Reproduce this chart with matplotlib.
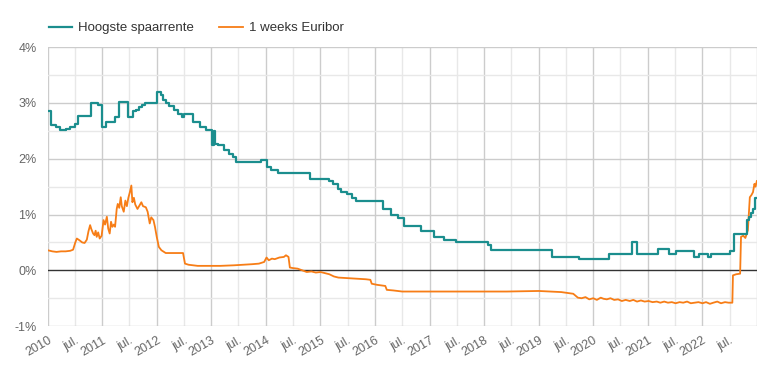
import matplotlib
matplotlib.use('Agg')
import matplotlib.pyplot as plt
import pandas as pd

plt.rcParams['font.family'] = ['Liberation Sans', 'DejaVu Sans']

# hoogste spaarrente (steps), change dates and values in %
spaar_dates = ['2010-01-01', '2010-01-25', '2010-02-25', '2010-03-25', '2010-05-01', '2010-06-01',
               '2010-07-01', '2010-07-25', '2010-10-20', '2010-12-01', '2011-01-01', '2011-01-25',
               '2011-03-25', '2011-04-20', '2011-06-25', '2011-07-28', '2011-08-15', '2011-09-05',
               '2011-09-25', '2011-10-15', '2012-01-01', '2012-01-28', '2012-02-15', '2012-03-01',
               '2012-03-25', '2012-04-28', '2012-05-20', '2012-06-15', '2012-07-01', '2012-09-01',
               '2012-10-15', '2012-11-25', '2013-01-08', '2013-01-16', '2013-01-22', '2013-02-15',
               '2013-03-25', '2013-04-28', '2013-05-25', '2013-06-15', '2013-12-01', '2014-01-05',
               '2014-02-05', '2014-03-20', '2014-10-20', '2015-03-01', '2015-03-25', '2015-04-25',
               '2015-05-20', '2015-06-25', '2015-07-28', '2015-08-28', '2016-02-25', '2016-04-20',
               '2016-06-01', '2016-07-15', '2016-11-05', '2017-02-01', '2017-04-10', '2017-06-28',
               '2018-01-25', '2018-02-15', '2019-04-01', '2019-09-25', '2020-04-15', '2020-09-17',
               '2020-10-22', '2021-03-10', '2021-05-20', '2021-07-08', '2021-11-03', '2021-12-06',
               '2022-02-10', '2022-02-28', '2022-07-01', '2022-07-31', '2022-10-28', '2022-11-10',
               '2022-11-22', '2022-12-05', '2022-12-18', '2022-12-31']
spaar_vals = [2.85, 2.60, 2.57, 2.52, 2.54, 2.57,
              2.63, 2.76, 2.99, 2.96, 2.57, 2.65,
              2.74, 3.02, 2.75, 2.85, 2.88, 2.92,
              2.96, 3.00, 3.20, 3.14, 3.06, 3.00,
              2.94, 2.88, 2.81, 2.75, 2.81, 2.66,
              2.57, 2.51, 2.25, 2.50, 2.27, 2.25,
              2.15, 2.09, 2.03, 1.95, 1.98, 1.85,
              1.79, 1.74, 1.64, 1.60, 1.55, 1.46,
              1.40, 1.36, 1.30, 1.25, 1.10, 1.00,
              0.94, 0.80, 0.70, 0.60, 0.55, 0.50,
              0.45, 0.37, 0.24, 0.20, 0.29, 0.50,
              0.29, 0.39, 0.29, 0.35, 0.24, 0.29,
              0.24, 0.29, 0.35, 0.65, 0.90, 0.96,
              1.02, 1.10, 1.29, 1.29]

# 1 weeks euribor in %
eur_dates = ['2010-01-01', '2010-02-01', '2010-03-01', '2010-04-01', '2010-05-01', '2010-06-01',
             '2010-06-20', '2010-07-05', '2010-07-15', '2010-08-01', '2010-08-20', '2010-09-05',
             '2010-09-20', '2010-10-01', '2010-10-12', '2010-10-20', '2010-11-01', '2010-11-10',
             '2010-11-18', '2010-11-25', '2010-12-05', '2010-12-15', '2010-12-28', '2011-01-10',
             '2011-01-20', '2011-02-01', '2011-02-10', '2011-02-20', '2011-03-01', '2011-03-10',
             '2011-03-20', '2011-03-28', '2011-04-08', '2011-04-15', '2011-04-25', '2011-05-05',
             '2011-05-12', '2011-05-25', '2011-06-05', '2011-06-15', '2011-06-25', '2011-07-05',
             '2011-07-15', '2011-07-22', '2011-08-01', '2011-08-10', '2011-08-25', '2011-09-05',
             '2011-09-20', '2011-10-01', '2011-10-20', '2011-11-01', '2011-11-15', '2011-11-25',
             '2011-12-10', '2011-12-20', '2012-01-01', '2012-01-15', '2012-02-01', '2012-03-01',
             '2012-04-01', '2012-05-01', '2012-06-01', '2012-06-25', '2012-07-08', '2012-08-01',
             '2012-10-01', '2012-12-01', '2013-03-01', '2013-06-01', '2013-08-01', '2013-10-01',
             '2013-11-15', '2013-12-20', '2014-01-05', '2014-01-20', '2014-02-10', '2014-03-01',
             '2014-04-01', '2014-05-01', '2014-05-15', '2014-06-01', '2014-06-10', '2014-07-01',
             '2014-08-01', '2014-09-10', '2014-10-01', '2014-11-01', '2014-12-01', '2015-01-01',
             '2015-02-01', '2015-03-01', '2015-04-01', '2015-05-01', '2015-07-01', '2015-09-01',
             '2015-11-01', '2015-12-01', '2015-12-10', '2016-01-15', '2016-03-10', '2016-03-20',
             '2016-05-01', '2016-07-01', '2017-01-01', '2017-07-01', '2018-01-01', '2018-06-01',
             '2019-01-01', '2019-06-01', '2019-08-20', '2019-09-20', '2019-10-15', '2019-11-10',
             '2019-12-05', '2020-01-01', '2020-01-25', '2020-02-20', '2020-03-10', '2020-04-01',
             '2020-04-25', '2020-05-20', '2020-06-15', '2020-07-10', '2020-08-05', '2020-09-01',
             '2020-09-25', '2020-10-20', '2020-11-15', '2020-12-10', '2021-01-05', '2021-02-01',
             '2021-03-01', '2021-03-25', '2021-04-20', '2021-05-15', '2021-06-10', '2021-07-05',
             '2021-08-01', '2021-08-25', '2021-09-20', '2021-10-15', '2021-11-10', '2021-12-05',
             '2022-01-01', '2022-01-25', '2022-02-20', '2022-03-15', '2022-04-10', '2022-05-05',
             '2022-06-01', '2022-06-25', '2022-07-20', '2022-07-24', '2022-08-15', '2022-09-10',
             '2022-09-16', '2022-10-01', '2022-10-15', '2022-11-01', '2022-11-14', '2022-11-25',
             '2022-12-05', '2022-12-15', '2022-12-22', '2022-12-31']
eur_vals = [0.36, 0.34, 0.33, 0.34, 0.34, 0.35,
            0.37, 0.50, 0.57, 0.54, 0.50, 0.49,
            0.55, 0.70, 0.81, 0.74, 0.66, 0.63,
            0.71, 0.60, 0.68, 0.57, 0.62, 0.90,
            0.82, 0.96, 0.75, 0.66, 0.87, 0.78,
            0.82, 0.78, 1.10, 1.19, 1.12, 1.31,
            1.15, 1.05, 1.25, 1.15, 1.30, 1.40,
            1.52, 1.22, 1.30, 1.18, 1.10, 1.15,
            1.22, 1.15, 1.13, 1.05, 0.84, 0.95,
            0.90, 0.78, 0.60, 0.42, 0.36, 0.31,
            0.31, 0.31, 0.31, 0.31, 0.12, 0.10,
            0.08, 0.08, 0.08, 0.09, 0.10, 0.11,
            0.12, 0.15, 0.23, 0.18, 0.21, 0.20,
            0.23, 0.24, 0.27, 0.24, 0.05, 0.04,
            0.03, -0.01, -0.03, -0.02, -0.04, -0.03,
            -0.05, -0.07, -0.11, -0.13, -0.14, -0.15,
            -0.16, -0.17, -0.24, -0.26, -0.28, -0.35,
            -0.36, -0.38, -0.38, -0.38, -0.38, -0.38,
            -0.37, -0.39, -0.42, -0.49, -0.50, -0.48,
            -0.52, -0.50, -0.53, -0.49, -0.51, -0.52,
            -0.50, -0.53, -0.52, -0.55, -0.53, -0.55,
            -0.53, -0.56, -0.54, -0.56, -0.55, -0.57,
            -0.56, -0.58, -0.56, -0.58, -0.57, -0.59,
            -0.57, -0.58, -0.56, -0.59, -0.58, -0.57,
            -0.59, -0.57, -0.60, -0.58, -0.56, -0.59,
            -0.57, -0.58, -0.58, -0.09, -0.07, -0.06,
            0.60, 0.62, 0.58, 0.72, 1.31, 1.35,
            1.40, 1.55, 1.50, 1.60]

legend_labels = ['Hoogste spaarrente', '1 weeks Euribor']
teal = '#1b8e8e'
orange = '#f77d16'

sd = pd.to_datetime(spaar_dates)
ed = pd.to_datetime(eur_dates)

fig = plt.figure(figsize=(7.57, 3.74), dpi=100)
ax = fig.add_axes([0.063, 0.128, 0.937, 0.746])

# grid: year / half year vertical, 1% / 0.5% horizontal
years = pd.date_range('2010-01-01', '2023-01-01', freq='YS')
halves = pd.date_range('2010-07-01', '2022-07-01', freq='12MS')
for d in years:
    ax.axvline(d, color='#cccccc', lw=1, zorder=0)
for d in halves:
    ax.axvline(d, color='#e8e8e8', lw=1, zorder=0)
for v in [-1, 1, 2, 3, 4]:
    ax.axhline(v, color='#cccccc', lw=1, zorder=0)
for v in [-0.5, 0.5, 1.5, 2.5, 3.5]:
    ax.axhline(v, color='#e8e8e8', lw=1, zorder=0)
ax.axhline(0, color='#333333', lw=1, zorder=1)

ax.plot(sd, spaar_vals, drawstyle='steps-post', color=teal, lw=1.6, zorder=3, label=legend_labels[0])
ax.plot(ed, eur_vals, color=orange, lw=1.3, zorder=2, label=legend_labels[1])

ax.set_xlim(pd.Timestamp('2010-01-01'), pd.Timestamp('2023-01-01'))
ax.set_ylim(-1, 4)
for s in ax.spines.values():
    s.set_visible(False)

ax.set_yticks([-1, 0, 1, 2, 3, 4])
ax.set_yticklabels(['-1%', '0%', '1%', '2%', '3%', '4%'])
ticks = []
labels = []
for y in range(2010, 2023):
    ticks += [pd.Timestamp(f'{y}-01-01'), pd.Timestamp(f'{y}-07-01')]
    labels += [str(y), 'jul.']
ax.set_xticks(ticks)
ax.set_xticklabels(labels, rotation=30, ha='right', rotation_mode='anchor')
ax.tick_params(length=0, colors='#666666', labelsize=9)
ax.tick_params(axis='x', pad=6)
ax.tick_params(axis='y', pad=8)

ax.legend(loc='lower left', bbox_to_anchor=(-0.006, 1.027), ncol=2, frameon=False,
          fontsize=9.5, handlelength=1.8, handletextpad=0.45, columnspacing=1.9,
          borderaxespad=0, labelcolor='#333333')

fig.savefig('out.png', dpi=100)
